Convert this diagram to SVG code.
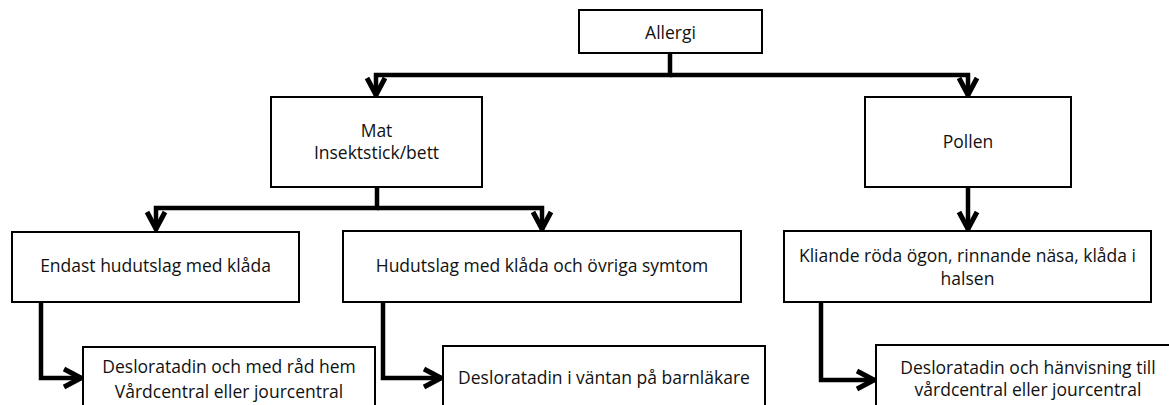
<svg xmlns="http://www.w3.org/2000/svg" width="1169" height="405" viewBox="0 0 1169 405">
<style>
.box{fill:#fff;stroke:#000;stroke-width:2}
.lbl{font-family:"Open Sans","Liberation Sans",sans-serif;font-size:17.5px;fill:#111;text-anchor:middle}
.con{fill:none;stroke:#000;stroke-width:4.5;stroke-linejoin:miter}
</style>
<defs>
<marker id="arr" markerUnits="userSpaceOnUse" markerWidth="28" markerHeight="28" viewBox="0 0 28 28" refX="22" refY="14" orient="auto">
<path d="M4,5 L21,14 L4,23" fill="none" stroke="#000" stroke-width="5"/>
</marker>
</defs>
<rect width="1169" height="405" fill="#fff"/>
<g id="connectors">
<path class="con" d="M670,53 V75 H376 V96" marker-end="url(#arr)"/>
<path class="con" d="M670,75 H968 V96" marker-end="url(#arr)"/>
<path class="con" d="M377,187 V208 H156 V230" marker-end="url(#arr)"/>
<path class="con" d="M377,208 H542 V230" marker-end="url(#arr)"/>
<path class="con" d="M968,187 V230" marker-end="url(#arr)"/>
<path class="con" d="M41,302 V378 H82" marker-end="url(#arr)"/>
<path class="con" d="M383,302 V378 H442" marker-end="url(#arr)"/>
<path class="con" d="M821,302 V380 H875" marker-end="url(#arr)"/>
</g>
<g id="allergi"><rect class="box" x="579" y="10" width="183" height="43"/><text class="lbl" x="670.5" y="39">Allergi</text></g>
<g id="mat"><rect class="box" x="271" y="97" width="211" height="90"/><text class="lbl" x="376.5" y="137">Mat</text><text class="lbl" x="376.5" y="159">Insektstick/bett</text></g>
<g id="pollen"><rect class="box" x="865" y="97" width="206" height="90"/><text class="lbl" x="968" y="148">Pollen</text></g>
<g id="endast"><rect class="box" x="12" y="232" width="287" height="70"/><text class="lbl" x="155.5" y="272">Endast hudutslag med klåda</text></g>
<g id="hudutslag"><rect class="box" x="343" y="231" width="398" height="71"/><text class="lbl" x="542" y="272">Hudutslag med klåda och övriga symtom</text></g>
<g id="kliande"><rect class="box" x="784" y="231" width="367" height="71"/><text class="lbl" x="967.5" y="262">Kliande röda ögon, rinnande näsa, klåda i</text><text class="lbl" x="967.5" y="285">halsen</text></g>
<g id="desl1"><rect class="box" x="83" y="347" width="292" height="70"/><text class="lbl" x="229" y="373">Desloratadin och med råd hem</text><text class="lbl" x="229" y="398">Vårdcentral eller jourcentral</text></g>
<g id="desl2"><rect class="box" x="443" y="346" width="322" height="70"/><text class="lbl" x="604" y="384">Desloratadin i väntan på barnläkare</text></g>
<g id="desl3"><rect class="box" x="876" y="345" width="306" height="70"/><text class="lbl" x="1028" y="374">Desloratadin och hänvisning till</text><text class="lbl" x="1028" y="396">vårdcentral eller jourcentral</text></g>
</svg>
